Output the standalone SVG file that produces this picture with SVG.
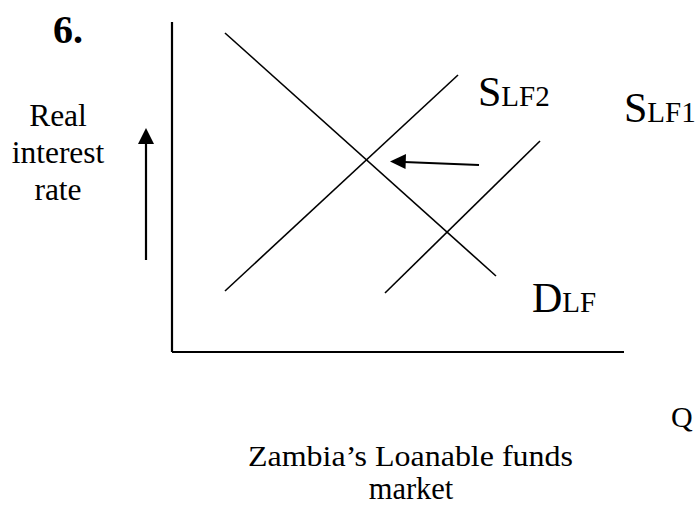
<svg xmlns="http://www.w3.org/2000/svg" width="699" height="508" viewBox="0 0 699 508">
<style>
.t{font-family:"Liberation Serif","Times New Roman",serif;fill:#000}
.ln{stroke:#000;stroke-width:1.6;fill:none}
.ax{stroke:#000;stroke-width:2.2;fill:none}
.ar{stroke:#000;stroke-width:2.2;fill:none}
.big{font-size:42px}
.sm{font-size:29px}
</style>
<rect width="699" height="508" fill="#fff"/>
<text class="t" x="53" y="43" font-size="40" font-weight="bold">6.</text>
<g id="yLabel">
<text class="t" x="58" y="126" font-size="31.5" text-anchor="middle">Real</text>
<text class="t" x="58" y="163" font-size="31.5" text-anchor="middle">interest</text>
<text class="t" x="58" y="200" font-size="31.5" text-anchor="middle">rate</text>
</g>
<g id="axes">
<line class="ax" x1="172" y1="22" x2="172" y2="352"/>
<line class="ax" x1="172" y1="352" x2="624" y2="352"/>
</g>
<g id="connectors">
<line class="ln" x1="225" y1="33" x2="496" y2="276"/>
<line class="ln" x1="225" y1="291" x2="458" y2="75"/>
<line class="ln" x1="385" y1="293" x2="540" y2="141"/>
<line class="ar" x1="146" y1="260" x2="146" y2="142"/>
<path d="M146,128 L138,144 L154,144 z" fill="#000"/>
<line class="ar" x1="479" y1="165" x2="404" y2="162"/>
<path d="M390,161.5 L406,154 L405.5,169 z" fill="#000"/>
</g>
<g id="SLF2">
<text class="t" x="478" y="106"><tspan class="big">S</tspan><tspan class="sm">LF2</tspan></text>
</g>
<g id="SLF1">
<text class="t" x="624" y="122"><tspan class="big">S</tspan><tspan class="sm">LF1</tspan></text>
</g>
<g id="DLF">
<text class="t" x="532" y="312"><tspan class="big">D</tspan><tspan class="sm">LF</tspan></text>
</g>
<text class="t" x="671" y="427" font-size="30">Q</text>
<g id="title">
<text class="t" x="248" y="466" font-size="29.5" textLength="325" lengthAdjust="spacingAndGlyphs">Zambia’s Loanable funds</text>
<text class="t" x="411" y="499" font-size="30.5" text-anchor="middle">market</text>
</g>
</svg>
